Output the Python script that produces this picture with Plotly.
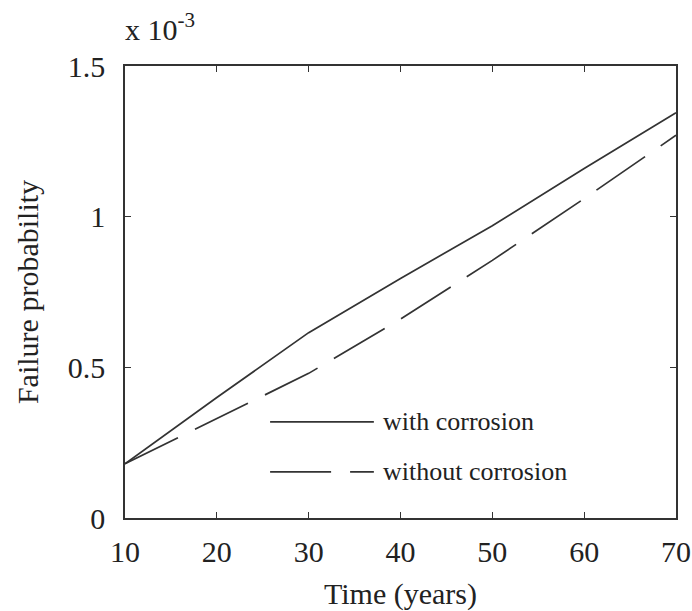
import plotly.graph_objects as go

# Data (failure probability in units of 10^-3)
years = [10, 20, 30, 40, 50, 60, 70]
with_corrosion = [0.18, 0.40, 0.615, 0.795, 0.97, 1.16, 1.345]
without_corrosion = [0.18, 0.33, 0.48, 0.66, 0.855, 1.06, 1.27]
series_names = ["with corrosion", "without corrosion"]
x_ticks = [10, 20, 30, 40, 50, 60, 70]
y_ticks = [0, 0.5, 1, 1.5]
y_tick_labels = ["0", "0.5", "1", "1.5"]

LINE = "#333333"
TXT = "#222222"
FONT = "Liberation Serif"
DASH = "59px,19px"

fig = go.Figure()
fig.add_trace(go.Scatter(x=years, y=with_corrosion, mode="lines", name=series_names[0],
                         line=dict(color=LINE, width=1.7), showlegend=False))
fig.add_trace(go.Scatter(x=years, y=without_corrosion, mode="lines", name=series_names[1],
                         line=dict(color=LINE, width=1.7, dash=DASH), showlegend=False))

# legend drawn inside the plot
leg_x0, leg_x1, txt_x = 25.8, 37.1, 37.85
leg_y = [0.319, 0.153]
dashes = ["solid", "61px,19px"]
for name, yy, d in zip(series_names, leg_y, dashes):
    fig.add_shape(type="line", xref="x", yref="y", x0=leg_x0, x1=leg_x1, y0=yy, y1=yy,
                  line=dict(color=LINE, width=1.7, dash=d))
    fig.add_annotation(x=txt_x, y=yy, xref="x", yref="y", text=name, showarrow=False,
                       xanchor="left", yanchor="middle", font=dict(family=FONT, size=26, color=TXT))

fig.add_annotation(x=0, y=1, xref="paper", yref="paper", text="x 10<sup>-3</sup>",
                   showarrow=False, xanchor="left", yanchor="bottom", yshift=18, xshift=-2,
                   font=dict(family=FONT, size=30, color=TXT))

fig.update_layout(
    width=692, height=611,
    margin=dict(l=125, r=16, t=66, b=93),
    plot_bgcolor="white", paper_bgcolor="white",
    font=dict(family=FONT, size=29, color=TXT),
)
fig.update_xaxes(range=[10, 70], tickvals=x_ticks, ticks="inside", ticklen=6, tickwidth=1.3,
                 tickcolor=LINE, showline=True, linecolor=LINE, linewidth=1.6, mirror="ticks",
                 showgrid=False, zeroline=False, ticklabelstandoff=6, automargin=False,
                 title=dict(text="Time (years)", font=dict(family=FONT, size=30, color=TXT), standoff=20),
                 tickfont=dict(family=FONT, size=30, color=TXT))
fig.update_yaxes(range=[0, 1.5], tickvals=y_ticks, ticktext=y_tick_labels, ticks="inside", ticklen=6,
                 tickwidth=1.3, tickcolor=LINE, showline=True, linecolor=LINE, linewidth=1.6,
                 mirror="ticks", showgrid=False, zeroline=False, ticklabelstandoff=12, automargin=False,
                 title=dict(text="Failure probability", font=dict(family=FONT, size=30, color=TXT), standoff=20),
                 tickfont=dict(family=FONT, size=30, color=TXT))

# remove the page's default body margin so the figure sits at the window origin
fig.write_html("out.html", config={"displayModeBar": False},
               post_script="document.body.style.margin='0';")
